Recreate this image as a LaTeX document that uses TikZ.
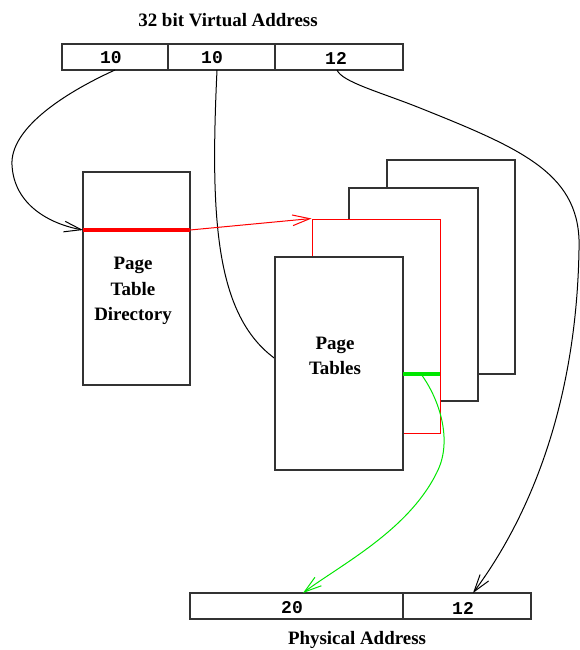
\documentclass[tikz,border=0pt]{standalone}
\usepackage{fontspec}
\setmainfont{Liberation Serif}
\setmonofont{Liberation Mono}
\usetikzlibrary{arrows.meta,fit}
\definecolor{xred}{RGB}{255,0,0}
\definecolor{xgreen}{RGB}{0,230,0}
\tikzset{
  box/.style={draw=black!80, line width=0.9pt, fill=white, inner sep=0pt},
  redbox/.style={draw=xred, line width=0.75pt, fill=white, inner sep=0pt},
  lbl/.style={font=\fontsize{14.2}{19}\selectfont\bfseries, align=center, inner sep=0pt},
  num/.style={font=\fontsize{13.5}{15}\selectfont\ttfamily\bfseries, inner sep=0pt},
  arr/.style={line width=0.75pt, -{Straight Barb[length=13pt,width=8pt,line width=0.75pt]}},
  conn/.style={line width=0.75pt}
}
\begin{document}
\begin{tikzpicture}[x=0.75pt,y=-0.75pt]
\useasboundingbox (0,0) rectangle (580,650);
% title and virtual address
\node[lbl] (vtitle) at (228,20) {32 bit Virtual Address};
\node[box, fit={(62,44) (168,70)}] (va1) {};
\node[box, fit={(168,44) (275,70)}] (va2) {};
\node[box, fit={(275,44) (403,70)}] (va3) {};
\node[num] (t1) at (111,58) {10};
\node[num] (t2) at (212,58) {10};
\node[num] (t3) at (336,58) {12};
% connectors from virtual address (behind boxes)
\coordinate (s1) at (115,70);
\coordinate (s2) at (217,70);
\coordinate (s3) at (337,70);
\coordinate (bend1) at (12,165);
\coordinate (e2) at (280,362);
\draw[conn] (s2) .. controls (210,220) and (215,320) .. (e2);
% page table directory
\node[box, fit={(83,172) (190,385)}] (ptd) {};
\node[lbl] (ptdtext) at (133,291) {Page\\Table\\Directory};
\coordinate (pdl) at (83,230);
\coordinate (pdr) at (190,230);
\draw[xred, line width=3pt] (pdl) -- (pdr);
\draw[arr] (s1) .. controls (60,95) and (10,130) .. (bend1) .. controls (14,205) and (50,224) .. (pdl);
% page tables stack
\node[box, fit={(387,160) (515,374)}] (pt4) {};
\node[box, fit={(349,188) (478,401)}] (pt3) {};
\node[redbox, fit={(312,219) (440,433)}] (pt2) {};
\node[box, fit={(275,257) (403,470)}] (pt1) {};
\node[lbl] (pttext) at (335,356) {Page\\Tables};
\draw[xred, arr] (pdr) -- (pt2.north west);
\coordinate (gl) at (403,374);
\coordinate (gr) at (440,374);
\draw[xgreen, line width=3pt] (gl) -- (gr);
\coordinate (gs) at (421,374);
% physical address
\node[box, fit={(190,593) (403,619)}] (pa1) {};
\node[box, fit={(403,593) (531,619)}] (pa2) {};
\node[num] (t4) at (292,608) {20};
\node[num] (t5) at (463,608) {12};
\node[lbl] (ptitle) at (357,640) {Physical Address};
\coordinate (pe1) at (303,593);
\coordinate (pe2) at (473,593);
\draw[xgreen, arr] (gs) .. controls (440,400) and (452,440) .. (438,470) .. controls (410,530) and (340,565) .. (pe1);
\draw[arr] (s3) .. controls (342,82) and (380,92) .. (420,108) .. controls (525,150) and (582,175) .. (579,250) .. controls (576,420) and (520,530) .. (pe2);
\end{tikzpicture}
\end{document}
